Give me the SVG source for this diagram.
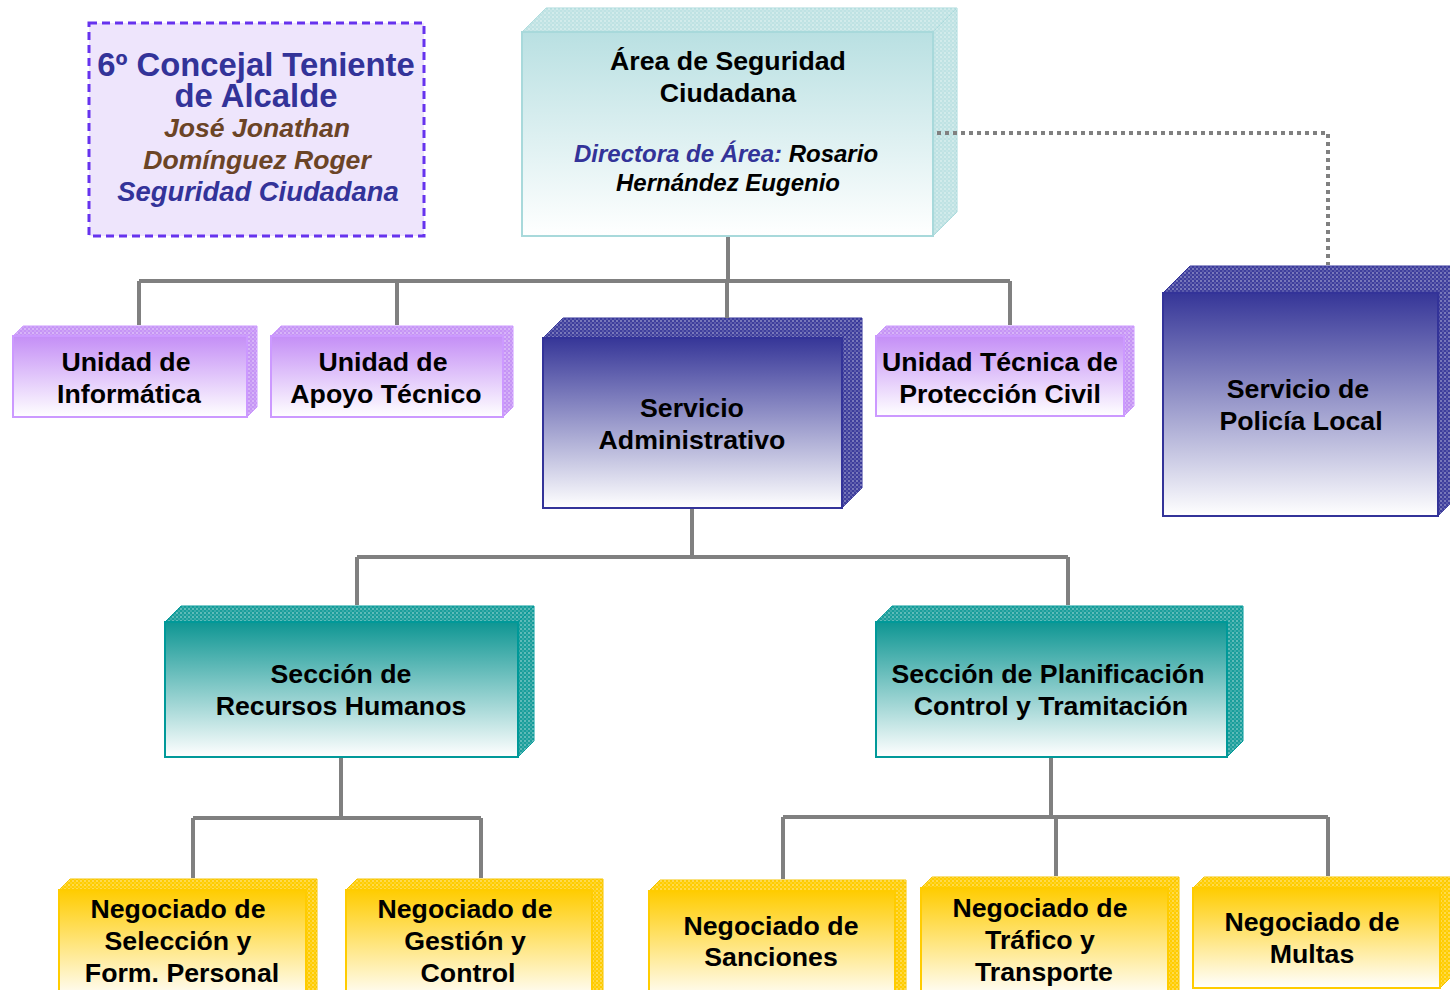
<svg xmlns="http://www.w3.org/2000/svg" width="1450" height="990" viewBox="0 0 1450 990">
<defs>
<linearGradient id="gLav" x1="0" y1="0" x2="0" y2="1"><stop offset="0" stop-color="#C48EF6"/><stop offset="1" stop-color="#FFFFFF"/></linearGradient>
<linearGradient id="gBlue" x1="0" y1="0" x2="0" y2="1"><stop offset="0" stop-color="#363698"/><stop offset="1" stop-color="#FFFFFF"/></linearGradient>
<linearGradient id="gTeal" x1="0" y1="0" x2="0" y2="1"><stop offset="0" stop-color="#0E9693"/><stop offset="1" stop-color="#FFFFFF"/></linearGradient>
<linearGradient id="gGold" x1="0" y1="0" x2="0" y2="1"><stop offset="0" stop-color="#FFCC00"/><stop offset="1" stop-color="#FFFFFF"/></linearGradient>
<linearGradient id="gAqua" x1="0" y1="0" x2="0" y2="1"><stop offset="0" stop-color="#B9E0E2"/><stop offset="1" stop-color="#FFFFFF"/></linearGradient>
<pattern id="dots" width="4" height="4" patternUnits="userSpaceOnUse"><rect x="0" y="0" width="2" height="2" fill="#FFFFFF" fill-opacity="0.3"/><rect x="2" y="2" width="2" height="2" fill="#FFFFFF" fill-opacity="0.15"/></pattern>
<style>
.lbl{font-family:"Liberation Sans",Arial,sans-serif;font-weight:bold;font-size:26.7px;fill:#000;text-anchor:middle}
.conn{fill:none;stroke:#808080;stroke-width:4}
.dot{fill:none;stroke:#808080;stroke-width:4;stroke-dasharray:4 4}
.lavF{fill:url(#gLav);stroke:#CC99FF;stroke-width:2}
.lavS{fill:#C594F5;stroke:#CC99FF;stroke-width:1}
.bluF{fill:url(#gBlue);stroke:#333399;stroke-width:2}
.bluS{fill:#3E3E9C;stroke:#333399;stroke-width:1}
.tealF{fill:url(#gTeal);stroke:#009999;stroke-width:2}
.tealS{fill:#1A9E9B;stroke:#009999;stroke-width:1}
.goldF{fill:url(#gGold);stroke:#FFCC00;stroke-width:2}
.goldS{fill:#FFCC00;stroke:#F5C400;stroke-width:1}
.aquaF{fill:url(#gAqua);stroke:#A8D9DB;stroke-width:2}
.aquaS{fill:#BEE2E3;stroke:#A8D9DB;stroke-width:1}
.tex{fill:url(#dots);stroke:none}
.ttl{font-family:"Liberation Sans",Arial,sans-serif;font-weight:bold;text-anchor:middle}
</style>
</defs>
<rect width="1450" height="990" fill="#FFFFFF"/>

<g id="concejal">
<rect x="89" y="23" width="335" height="213" fill="#EEE5FC" stroke="#6633EE" stroke-width="3" stroke-dasharray="8 5"/>
<text class="ttl" x="256" y="76" font-size="32.8" fill="#333399">6º Concejal Teniente</text>
<text class="ttl" x="256" y="107" font-size="32.8" fill="#333399">de Alcalde</text>
<text class="ttl" x="257" y="137" font-style="italic" font-size="26.6" fill="#6B4426">José Jonathan</text>
<text class="ttl" x="257" y="169" font-style="italic" font-size="26.6" fill="#6B4426">Domínguez Roger</text>
<text class="ttl" x="258" y="201" font-style="italic" font-size="27.4" fill="#333399">Seguridad Ciudadana</text>
</g>

<g id="area">
<polygon class="aquaS" points="522,32 546,8 957,8 933,32"/>
<polygon class="aquaS" points="933,32 957,8 957,212 933,236"/>
<polygon class="tex" points="522,32 546,8 957,8 933,32"/>
<polygon class="tex" points="933,32 957,8 957,212 933,236"/>
<rect class="aquaF" x="522" y="32" width="411" height="204"/>
<text class="lbl" x="728" y="70">Área de Seguridad</text>
<text class="lbl" x="728" y="102">Ciudadana</text>
<text class="ttl" x="726" y="162" font-style="italic" font-size="24"><tspan fill="#333399">Directora de Área:</tspan><tspan fill="#000"> Rosario</tspan></text>
<text class="ttl" x="728" y="191" font-style="italic" font-size="24" fill="#000">Hernández Eugenio</text>
</g>

<g id="informatica">
<polygon class="lavS" points="13,336 23,326 257,326 247,336"/>
<polygon class="lavS" points="247,336 257,326 257,407 247,417"/>
<polygon class="tex" points="13,336 23,326 257,326 247,336"/>
<polygon class="tex" points="247,336 257,326 257,407 247,417"/>
<rect class="lavF" x="13" y="336" width="234" height="81"/>
<text class="lbl" x="126" y="371">Unidad de</text>
<text class="lbl" x="129" y="403">Informática</text>
</g>

<g id="apoyo">
<polygon class="lavS" points="271,336 281,326 513,326 503,336"/>
<polygon class="lavS" points="503,336 513,326 513,407 503,417"/>
<polygon class="tex" points="271,336 281,326 513,326 503,336"/>
<polygon class="tex" points="503,336 513,326 513,407 503,417"/>
<rect class="lavF" x="271" y="336" width="232" height="81"/>
<text class="lbl" x="383" y="371">Unidad de</text>
<text class="lbl" x="386" y="403">Apoyo Técnico</text>
</g>

<g id="servicio-administrativo">
<polygon class="bluS" points="543,338 563,318 862,318 842,338"/>
<polygon class="bluS" points="842,338 862,318 862,488 842,508"/>
<polygon class="tex" points="543,338 563,318 862,318 842,338"/>
<polygon class="tex" points="842,338 862,318 862,488 842,508"/>
<rect class="bluF" x="543" y="338" width="299" height="170"/>
<text class="lbl" x="692" y="417">Servicio</text>
<text class="lbl" x="692" y="449">Administrativo</text>
</g>

<g id="proteccion-civil">
<polygon class="lavS" points="876,336 886,326 1134,326 1124,336"/>
<polygon class="lavS" points="1124,336 1134,326 1134,406 1124,416"/>
<polygon class="tex" points="876,336 886,326 1134,326 1124,336"/>
<polygon class="tex" points="1124,336 1134,326 1134,406 1124,416"/>
<rect class="lavF" x="876" y="336" width="248" height="80"/>
<text class="lbl" x="1000" y="371">Unidad Técnica de</text>
<text class="lbl" x="1000" y="403">Protección Civil</text>
</g>

<g id="policia-local">
<polygon class="bluS" points="1163,293 1190,266 1465,266 1438,293"/>
<polygon class="bluS" points="1438,293 1465,266 1465,489 1438,516"/>
<polygon class="tex" points="1163,293 1190,266 1465,266 1438,293"/>
<polygon class="tex" points="1438,293 1465,266 1465,489 1438,516"/>
<rect class="bluF" x="1163" y="293" width="275" height="223"/>
<text class="lbl" x="1298" y="398">Servicio de</text>
<text class="lbl" x="1301" y="430">Policía Local</text>
</g>

<g id="recursos-humanos">
<polygon class="tealS" points="165,622 181,606 534,606 518,622"/>
<polygon class="tealS" points="518,622 534,606 534,741 518,757"/>
<polygon class="tex" points="165,622 181,606 534,606 518,622"/>
<polygon class="tex" points="518,622 534,606 534,741 518,757"/>
<rect class="tealF" x="165" y="622" width="353" height="135"/>
<text class="lbl" x="341" y="683">Sección de</text>
<text class="lbl" x="341" y="715">Recursos Humanos</text>
</g>

<g id="planificacion">
<polygon class="tealS" points="876,622 892,606 1243,606 1227,622"/>
<polygon class="tealS" points="1227,622 1243,606 1243,741 1227,757"/>
<polygon class="tex" points="876,622 892,606 1243,606 1227,622"/>
<polygon class="tex" points="1227,622 1243,606 1243,741 1227,757"/>
<rect class="tealF" x="876" y="622" width="351" height="135"/>
<text class="lbl" x="1048" y="683">Sección de Planificación</text>
<text class="lbl" x="1051" y="715">Control y Tramitación</text>
</g>

<g id="seleccion">
<polygon class="goldS" points="59,890 70,879 317,879 306,890"/>
<polygon class="goldS" points="306,890 317,879 317,990 306,1001"/>
<polygon class="tex" points="59,890 70,879 317,879 306,890"/>
<polygon class="tex" points="306,890 317,879 317,990 306,1001"/>
<rect class="goldF" x="59" y="890" width="247" height="110"/>
<text class="lbl" x="178" y="918">Negociado de</text>
<text class="lbl" x="178" y="950">Selección y</text>
<text class="lbl" x="182" y="982">Form. Personal</text>
</g>

<g id="gestion">
<polygon class="goldS" points="346,890 357,879 603,879 592,890"/>
<polygon class="goldS" points="592,890 603,879 603,990 592,1001"/>
<polygon class="tex" points="346,890 357,879 603,879 592,890"/>
<polygon class="tex" points="592,890 603,879 603,990 592,1001"/>
<rect class="goldF" x="346" y="890" width="246" height="110"/>
<text class="lbl" x="465" y="918">Negociado de</text>
<text class="lbl" x="465" y="950">Gestión y</text>
<text class="lbl" x="468" y="982">Control</text>
</g>

<g id="sanciones">
<polygon class="goldS" points="649,891 660,880 906,880 895,891"/>
<polygon class="goldS" points="895,891 906,880 906,990 895,1001"/>
<polygon class="tex" points="649,891 660,880 906,880 895,891"/>
<polygon class="tex" points="895,891 906,880 906,990 895,1001"/>
<rect class="goldF" x="649" y="891" width="246" height="110"/>
<text class="lbl" x="771" y="935">Negociado de</text>
<text class="lbl" x="771" y="966">Sanciones</text>
</g>

<g id="trafico">
<polygon class="goldS" points="921,888 932,877 1179,877 1168,888"/>
<polygon class="goldS" points="1168,888 1179,877 1179,990 1168,1001"/>
<polygon class="tex" points="921,888 932,877 1179,877 1168,888"/>
<polygon class="tex" points="1168,888 1179,877 1179,990 1168,1001"/>
<rect class="goldF" x="921" y="888" width="247" height="110"/>
<text class="lbl" x="1040" y="917">Negociado de</text>
<text class="lbl" x="1040" y="949">Tráfico y</text>
<text class="lbl" x="1044" y="981">Transporte</text>
</g>

<g id="multas">
<polygon class="goldS" points="1193,888 1204,877 1451,877 1440,888"/>
<polygon class="goldS" points="1440,888 1451,877 1451,977 1440,988"/>
<polygon class="tex" points="1193,888 1204,877 1451,877 1440,888"/>
<polygon class="tex" points="1440,888 1451,877 1451,977 1440,988"/>
<rect class="goldF" x="1193" y="888" width="247" height="100"/>
<text class="lbl" x="1312" y="931">Negociado de</text>
<text class="lbl" x="1312" y="963">Multas</text>
</g>

<g id="connectors">
<path class="dot" d="M937,133 H1328 V265"/>
<path class="conn" d="M728,237 V281 M139,281 H1010 M139,281 V325 M397,281 V325 M727,281 V318 M1010,281 V325"/>
<path class="conn" d="M692,509 V557 M357,557 H1068 M357,557 V605 M1068,557 V605"/>
<path class="conn" d="M341,758 V818 M193,818 H481 M193,818 V878 M481,818 V878"/>
<path class="conn" d="M1051,758 V817 M783,817 H1328 M783,817 V879 M1056,817 V876 M1328,817 V876"/>
</g>
</svg>
